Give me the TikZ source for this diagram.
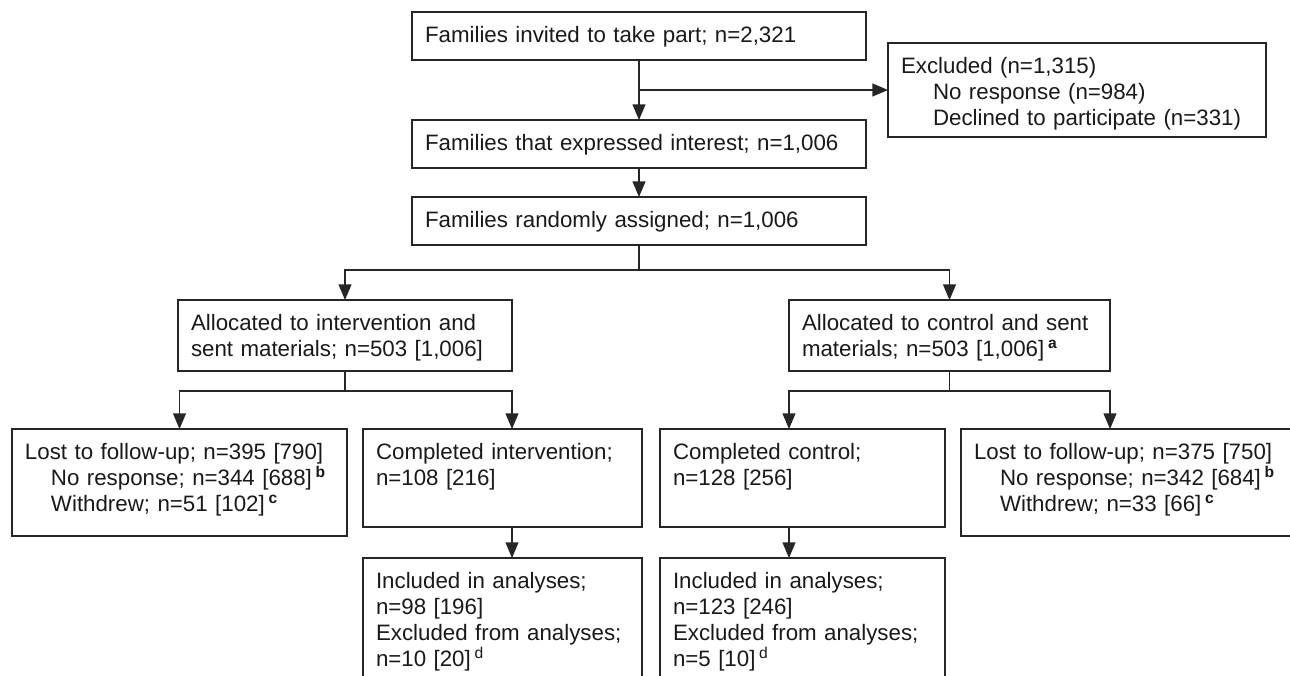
\documentclass[tikz,border=0pt]{standalone}
\usepackage{fontspec}
\setmainfont{Liberation Sans}
\usepackage{tikz}
\usetikzlibrary{positioning, calc, arrows, shapes}
\tikzset{>=triangle 45}
\tikzset{
  flowbox/.style={draw=black!85, line width=0.8pt, anchor=north west, outer sep=0pt,
    align=left, inner xsep=6.5pt, inner ysep=6.5pt, text height=8.5pt,
    text=black!90, font=\fontsize{11.15}{13}\selectfont},
  link/.style={black!85, line width=0.8pt}
}
\newcommand{\ind}{\hspace*{13pt}}
\newcommand{\fn}[1]{\,\textsuperscript{\textbf{#1}}}

\begin{document}
\begin{tikzpicture}[x=0.5pt, y=-0.5pt]
    \useasboundingbox (0,0) rectangle (1290,675);

    \node[flowbox, text width=214pt, text depth=2.5pt] (invited) at (412,12)
      {Families invited to take part; n=2,321};
    \node[flowbox, text width=176pt, text depth=25.5pt] (excluded) at (888,43)
      {Excluded (n=1,315)\\
       \hspace*{16pt}No response (n=984)\\
       \hspace*{16pt}Declined to participate (n=331)};
    \node[flowbox, text width=214pt, text depth=2.5pt] (interest) at (412,120)
      {Families that expressed interest; n=1,006};
    \node[flowbox, text width=214pt, text depth=2.5pt] (assigned) at (412,197)
      {Families randomly assigned; n=1,006};

    \node[flowbox, text width=154pt, text depth=14pt] (allocI) at (178,300)
      {Allocated to intervention and\\ sent materials; n=503 [1,006]};
    \node[flowbox, text width=147.5pt, text depth=14pt] (allocC) at (789,300)
      {Allocated to control and sent\\ materials; n=503 [1,006]\fn{a}};

    \node[flowbox, text width=154.5pt, text depth=32pt] (lostI) at (12,429)
      {Lost to follow-up; n=395 [790]\\
       \ind No response; n=344 [688]\fn{b}\\
       \ind Withdrew; n=51 [102]\fn{c}};
    \node[flowbox, text width=126.5pt, text depth=27.5pt] (compI) at (363,429)
      {Completed intervention;\\ n=108 [216]};
    \node[flowbox, text width=129.5pt, text depth=27.5pt] (compC) at (660,429)
      {Completed control;\\ n=128 [256]};
    \node[flowbox, text width=152.5pt, text depth=32pt] (lostC) at (961,429)
      {Lost to follow-up; n=375 [750]\\
       \ind No response; n=342 [684]\fn{b}\\
       \ind Withdrew; n=33 [66]\fn{c}};

    \node[flowbox, text width=126.5pt, text depth=48.5pt] (inclI) at (363,558)
      {Included in analyses;\\ n=98 [196]\\ Excluded from analyses;\\ n=10 [20]\,\textsuperscript{d}};
    \node[flowbox, text width=129.5pt, text depth=48.5pt] (inclC) at (660,558)
      {Included in analyses;\\ n=123 [246]\\ Excluded from analyses;\\ n=5 [10]\,\textsuperscript{d}};

    % enrolment
    \coordinate (split) at (invited.south |- excluded.west);
    \path [link, ->]
    (invited) edge (interest)
    (interest) edge (assigned)
    (split) edge (excluded);

    % randomisation
    \draw [link, ->] (assigned.south) -- ++(0,25) -| (allocI.north);
    \draw [link, ->] (assigned.south) -- ++(0,25) -| (allocC.north);

    % follow-up
    \draw [link, ->] (allocI.south) -- ++(0,20) -| (lostI.north);
    \draw [link, ->] (allocI.south) -- ++(0,20) -| (allocI.south east |- compI.north);
    \draw [link, ->] (allocC.south) -- ++(0,20) -| (allocC.south west |- compC.north);
    \draw [link, ->] (allocC.south) -- ++(0,20) -| (allocC.south east |- lostC.north);

    % analysis
    \path [link, ->]
    (allocI.south east |- compI.south) edge (allocI.south east |- inclI.north)
    (allocC.south west |- compC.south) edge (allocC.south west |- inclC.north);
  \end{tikzpicture}
\end{document}
